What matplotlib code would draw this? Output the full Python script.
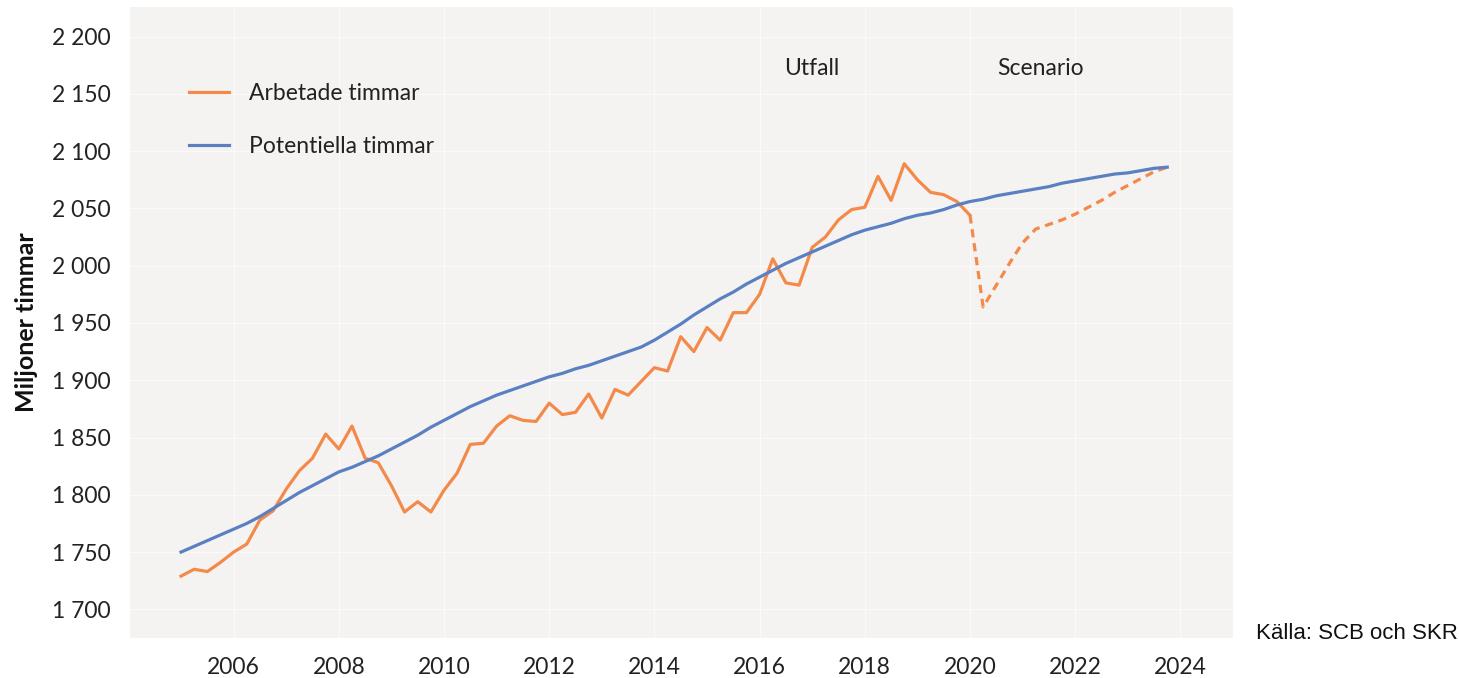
import matplotlib
matplotlib.use('Agg')
import matplotlib.pyplot as plt
from matplotlib.ticker import FuncFormatter, MultipleLocator

# quarterly series, 2005Q1 .. 2023Q4
start_year = 2005
arbetade = [1729, 1735, 1733, 1741, 1750, 1757, 1778, 1786, 1805, 1821, 1832, 1853,
            1840, 1860, 1832, 1828, 1808, 1785, 1794, 1785, 1804, 1819, 1844, 1845,
            1860, 1869, 1865, 1864, 1880, 1870, 1872, 1888, 1867, 1892, 1887, 1899,
            1911, 1908, 1938, 1925, 1946, 1935, 1959, 1959, 1975, 2006, 1985, 1983,
            2016, 2025, 2040, 2049, 2051, 2078, 2057, 2089, 2075, 2064, 2062, 2056,
            2044]
scenario = [2044, 1964, 1983, 2002, 2020, 2032, 2036, 2040, 2045, 2051, 2057, 2064,
            2070, 2076, 2082, 2086]
potentiella = [1750, 1755, 1760, 1765, 1770, 1775, 1781, 1788, 1795, 1802, 1808, 1814,
               1820, 1824, 1829, 1834, 1840, 1846, 1852, 1859, 1865, 1871, 1877, 1882,
               1887, 1891, 1895, 1899, 1903, 1906, 1910, 1913, 1917, 1921, 1925, 1929,
               1935, 1942, 1949, 1957, 1964, 1971, 1977, 1984, 1990, 1996, 2002, 2007,
               2012, 2017, 2022, 2027, 2031, 2034, 2037, 2041, 2044, 2046, 2049, 2053,
               2056, 2058, 2061, 2063, 2065, 2067, 2069, 2072, 2074, 2076, 2078, 2080,
               2081, 2083, 2085, 2086]

t_arb = [start_year + i / 4 for i in range(len(arbetade))]
t_scen = [t_arb[-1] + i / 4 for i in range(len(scenario))]
t_pot = [start_year + i / 4 for i in range(len(potentiella))]

orange = '#f38a4a'
blue = '#5b80c2'
font = 'Lato'

fig = plt.figure(figsize=(14.59, 6.78), dpi=100)
ax = fig.add_axes([0.0891, 0.059, 0.756, 0.931])
ax.set_facecolor('#f4f3f2')

ax.plot(t_arb, arbetade, color=orange, lw=2.3, label='Arbetade timmar', zorder=3)
ax.plot(t_scen, scenario, color=orange, lw=2.3, ls=(0, (2.6, 1.8)), zorder=3)
ax.plot(t_pot, potentiella, color=blue, lw=2.3, label='Potentiella timmar', zorder=4)

ax.set_xlim(2004.03, 2025.0)
ax.set_ylim(1675, 2226)
ax.xaxis.set_major_locator(MultipleLocator(2))
ax.yaxis.set_major_locator(MultipleLocator(50))
ax.yaxis.set_major_formatter(FuncFormatter(lambda v, p: f'{int(v):,}'.replace(',', ' ')))
ax.grid(color='#fbfaf9', lw=0.9)
ax.set_axisbelow(True)
for s in ax.spines.values():
    s.set_visible(False)
ax.tick_params(length=0, labelsize=16.5, labelcolor='#222222', pad=14)
for lab in ax.get_xticklabels() + ax.get_yticklabels():
    lab.set_fontfamily(font)

ax.set_ylabel('Miljoner timmar', fontsize=18, fontweight='bold', family=font,
              color='#111111')
ax.yaxis.set_label_coords(-0.083, 0.5)

ax.text(2017.0, 2172, 'Utfall', fontsize=16.5, family=font, ha='center', va='center', color='#222222')
ax.text(2021.35, 2172, 'Scenario', fontsize=16.5, family=font, ha='center', va='center', color='#222222')

leg = ax.legend(loc='upper left', bbox_to_anchor=(0.035, 0.912), frameon=False,
                prop={'family': font, 'size': 16.5}, handlelength=1.75, handletextpad=0.85,
                labelspacing=1.42)
for txt in leg.get_texts():
    txt.set_color('#222222')

fig.text(0.861, 0.065, 'Källa: SCB och SKR', fontsize=16, family='Liberation Sans',
         color='#111111', ha='left', va='center')

fig.savefig('out.png', dpi=100)
plt.close(fig)
